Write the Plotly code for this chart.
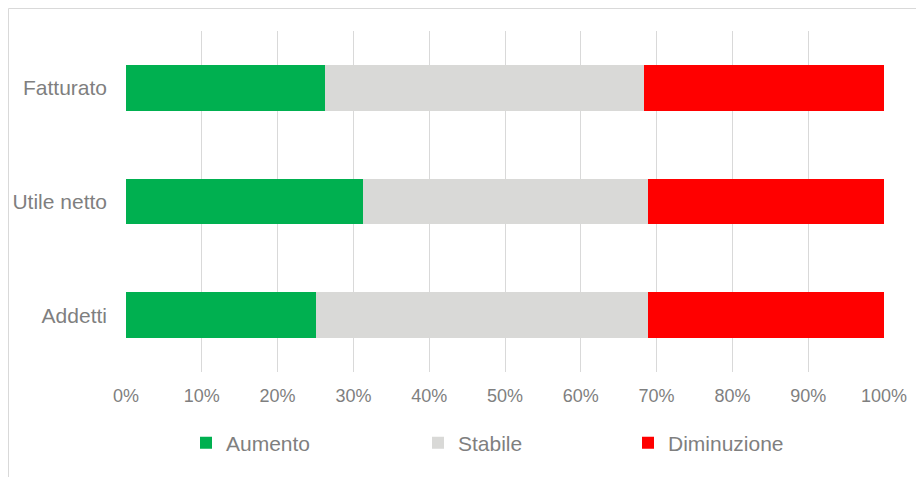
import plotly.graph_objects as go

categories = ["Fatturato", "Utile netto", "Addetti"]
aumento = [26.3, 31.3, 25.0]
stabile = [42.1, 37.5, 43.8]
diminuzione = [31.6, 31.2, 31.2]
series_names = ["Aumento", "Stabile", "Diminuzione"]
series_colors = ["#00B050", "#D9D9D7", "#FF0000"]
tick_vals = [0, 10, 20, 30, 40, 50, 60, 70, 80, 90, 100]
tick_text = [f"{v}%" for v in tick_vals]

W, H = 916, 477
ML, MR, MT, MB = 126, 32, 31, 105
PW = W - ML - MR
PH = H - MT - MB

def px_x(p):
    return (p - ML) / PW

def px_y(p):
    return (H - MB - p) / PH

fig = go.Figure()
legends = ["legend", "legend2", "legend3"]
for name, vals, col, lg in zip(series_names, [aumento, stabile, diminuzione], series_colors, legends):
    fig.add_trace(go.Bar(
        y=categories, x=vals, name=name, orientation="h",
        marker=dict(color=col, line=dict(width=0)),
        legend=lg, hoverinfo="skip", showlegend=True,
    ))

font_col = "#7F7F7F"
leg_font = dict(family="Liberation Sans, Arial, sans-serif", size=21, color=font_col)
legend_text_starts = [226, 458, 668]

def leg(xpx):
    return dict(x=px_x(xpx - 40), xanchor="left", y=px_y(443), yanchor="middle",
                orientation="h", font=leg_font, bgcolor="rgba(0,0,0,0)",
                borderwidth=0, tracegroupgap=0, visible=True)

fig.update_layout(
    width=W, height=H,
    margin=dict(l=ML, r=MR, t=MT, b=MB, pad=0, autoexpand=False),
    barmode="stack", bargap=0.6,
    showlegend=True,
    plot_bgcolor="white", paper_bgcolor="white",
    legend=leg(legend_text_starts[0]),
    legend2=leg(legend_text_starts[1]),
    legend3=leg(legend_text_starts[2]),
    xaxis=dict(
        range=[0, 100], tickvals=tick_vals, ticktext=tick_text,
        showgrid=True, gridcolor="#D9D9D9", gridwidth=1,
        zeroline=False, showline=False, ticks="",
        tickfont=dict(family="Liberation Sans, Arial, sans-serif", size=18, color=font_col),
        ticklabelstandoff=11, fixedrange=True, automargin=False,
    ),
    yaxis=dict(
        categoryorder="array", categoryarray=categories[::-1],
        showgrid=False, zeroline=False, showline=False, ticks="",
        tickfont=dict(family="Liberation Sans, Arial, sans-serif", size=21, color=font_col),
        ticklabelstandoff=18, fixedrange=True, automargin=False,
    ),
    shapes=[dict(
        type="rect", xref="paper", yref="paper",
        x0=px_x(8.5), x1=px_x(W + 20), y0=px_y(H + 20), y1=px_y(8.5),
        line=dict(color="#D9D9D9", width=1), fillcolor="rgba(0,0,0,0)", layer="below",
    )],
)

fig.write_html("out.html", config={"displayModeBar": False})
